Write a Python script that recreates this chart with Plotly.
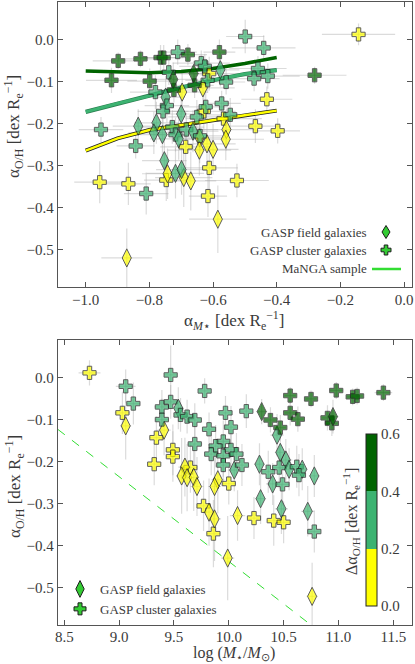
import plotly.graph_objects as go

# ---------------- data: top panel (alpha_M*, alpha_O/H) ----------------
# type: F = field (diamond), C = cluster (plus); delta = Delta alpha_O/H class value
top_alpha_m = [-0.898, -0.828, -0.765, -0.755, -0.679, -0.580, -0.919, -0.799, -0.658, -0.723, -0.281, -0.725, -0.661,
               -0.711, -0.637, -0.626, -0.739, -0.577, -0.617, -0.559, -0.781, -0.749, -0.745, -0.757, -0.700, -0.651,
               -0.623, -0.573, -0.546, -0.952, -0.835, -0.778, -0.786, -0.759, -0.728, -0.718, -0.708, -0.684, -0.663,
               -0.641, -0.843, -0.753, -0.718, -0.699, -0.810, -0.499, -0.441, -0.459, -0.471, -0.428,
               -0.143, -0.612, -0.431, -0.629, -0.567, -0.467, -0.397, -0.686, -0.612, -0.747, -0.525, -0.956, -0.866,
               -0.616, -0.697, -0.632, -0.558, -0.560, -0.642, -0.619, -0.643, -0.600, -0.743, -0.692, -0.670, -0.585,
               -0.871]
top_alpha_oh = [-0.051, -0.046, -0.043, -0.043, -0.036, -0.030, -0.097, -0.099, -0.109, -0.120, -0.085, -0.095, -0.081,
                -0.030, -0.056, -0.064, -0.078, -0.072, -0.097, -0.101, -0.125, -0.137, -0.157, -0.171, -0.177, -0.184,
                -0.160, -0.152, -0.179, -0.214, -0.206, -0.198, -0.222, -0.226, -0.208, -0.226, -0.236, -0.214, -0.218,
                -0.229, -0.253, -0.288, -0.318, -0.309, -0.366, 0.007, -0.020, -0.069, -0.093, -0.087,
                0.012, -0.081, -0.142, -0.171, -0.188, -0.206, -0.217, -0.255, -0.305, -0.334, -0.335, -0.339, -0.343,
                -0.372, -0.125, -0.115, -0.214, -0.237, -0.234, -0.248, -0.263, -0.261, -0.319, -0.328, -0.336, -0.427,
                -0.519]
top_xerr = [0.08, 0.07, 0.08, 0.06, 0.06, 0.05, 0.08, 0.07, 0.06, 0.06, 0.10, 0.07, 0.07,
            0.06, 0.09, 0.08, 0.08, 0.06, 0.07, 0.06, 0.08, 0.06, 0.07, 0.08, 0.07, 0.09,
            0.07, 0.06, 0.09, 0.07, 0.08, 0.07, 0.08, 0.07, 0.10, 0.08, 0.09, 0.10, 0.08,
            0.08, 0.06, 0.07, 0.09, 0.08, 0.07, 0.06, 0.10, 0.09, 0.08, 0.10,
            0.115, 0.09, 0.08, 0.10, 0.12, 0.08, 0.07, 0.08, 0.09, 0.07, 0.10, 0.08, 0.07,
            0.06, 0.08, 0.10, 0.09, 0.12, 0.08, 0.09, 0.10, 0.08, 0.08, 0.09, 0.08, 0.09,
            0.08]
top_yerr = [0.02, 0.02, 0.03, 0.03, 0.025, 0.03, 0.03, 0.03, 0.03, 0.03, 0.02, 0.04, 0.03,
            0.03, 0.03, 0.03, 0.03, 0.04, 0.03, 0.03, 0.04, 0.05, 0.04, 0.04, 0.05, 0.04,
            0.04, 0.03, 0.04, 0.03, 0.04, 0.05, 0.05, 0.05, 0.04, 0.04, 0.05, 0.04, 0.05,
            0.04, 0.03, 0.06, 0.06, 0.06, 0.05, 0.04, 0.03, 0.03, 0.03, 0.03,
            0.026, 0.04, 0.03, 0.05, 0.05, 0.04, 0.03, 0.05, 0.05, 0.05, 0.04, 0.05, 0.05,
            0.05, 0.05, 0.05, 0.05, 0.05, 0.06, 0.06, 0.06, 0.06, 0.06, 0.07, 0.07, 0.08,
            0.07]
top_type = list("CCCCCCCCCCCFF" + "CCCCFCCCFCCFC" + "CCCCFFFFCCFCF" + "CCFFFCCCCCC" + "CCCCCCCCCCCCC" + "CFFFFFFFFFFFFF")
top_delta = [0.5] * 13 + [0.3] * 37 + [0.1] * 27

# ---------------- data: bottom panel (log M*, alpha_O/H) ----------------
bot_logm = [10.56, 10.75, 10.98, 11.13, 11.17, 11.41, 10.38, 10.56, 10.63, 10.90, 10.94, 10.47, 10.30, 10.95,
            9.06, 9.47, 9.78, 9.13, 9.39, 9.39, 9.47, 9.54, 9.56, 9.62, 9.69, 9.97, 9.82, 10.02, 9.69, 9.95, 9.88,
            9.84, 10.02, 9.95, 9.95, 10.05, 10.16, 10.44, 10.47, 10.52, 10.46, 10.55, 10.62, 10.67, 10.64, 10.78,
            10.28, 10.36, 10.07, 10.12, 10.29, 10.40, 10.49, 10.48, 10.72, 10.78,
            8.73, 9.03, 9.34, 9.49, 9.49, 9.32, 9.65, 10.00, 9.77, 9.86, 10.23, 10.41, 10.50,
            9.06, 9.41, 9.60, 9.57, 9.62, 9.68, 9.90, 9.71, 9.87, 9.82, 9.87, 10.08, 9.99, 10.76]
bot_alpha_oh = [-0.043, -0.051, -0.031, -0.046, -0.044, -0.036, -0.101, -0.084, -0.099, -0.096, -0.109, -0.119, -0.081,
                -0.093,
                -0.021, 0.006, -0.032, -0.062, -0.070, -0.100, -0.058, -0.073, -0.089, -0.093, -0.101, -0.084, -0.123,
                -0.118, -0.158, -0.152, -0.163, -0.182, -0.172, -0.186, -0.208, -0.220, -0.080, -0.137, -0.178, -0.196,
                -0.214, -0.218, -0.212, -0.218, -0.232, -0.234, -0.206, -0.224, -0.182, -0.208, -0.288, -0.253, -0.254,
                -0.312, -0.318, -0.366,
                0.011, -0.084, -0.143, -0.172, -0.188, -0.206, -0.214, -0.252, -0.305, -0.371, -0.334, -0.340, -0.344,
                -0.115, -0.125, -0.213, -0.234, -0.238, -0.237, -0.243, -0.259, -0.259, -0.320, -0.336, -0.328, -0.429,
                -0.520]
bot_xerr = [0.05, 0.05, 0.06, 0.06, 0.05, 0.08, 0.05, 0.05, 0.05, 0.05, 0.05, 0.05, 0.05, 0.05,
            0.09, 0.06, 0.05, 0.06, 0.07, 0.06, 0.06, 0.05, 0.06, 0.06, 0.06, 0.05, 0.05, 0.06, 0.07, 0.06, 0.06,
            0.06, 0.07, 0.06, 0.07, 0.06, 0.06, 0.06, 0.05, 0.06, 0.06, 0.05, 0.06, 0.05, 0.06, 0.05,
            0.05, 0.06, 0.06, 0.06, 0.05, 0.06, 0.06, 0.06, 0.06, 0.05,
            0.10, 0.07, 0.06, 0.06, 0.06, 0.06, 0.06, 0.06, 0.06, 0.06, 0.06, 0.06, 0.06,
            0.05, 0.06, 0.06, 0.05, 0.06, 0.05, 0.06, 0.06, 0.06, 0.05, 0.06, 0.07, 0.06, 0.05]
bot_yerr = [0.02, 0.02, 0.02, 0.02, 0.02, 0.02, 0.03, 0.03, 0.03, 0.03, 0.03, 0.03, 0.03, 0.04,
            0.04, 0.07, 0.03, 0.05, 0.04, 0.05, 0.04, 0.05, 0.04, 0.04, 0.04, 0.04, 0.04, 0.05, 0.05, 0.05, 0.05,
            0.05, 0.05, 0.05, 0.05, 0.05, 0.04, 0.05, 0.05, 0.05, 0.05, 0.05, 0.05, 0.05, 0.05, 0.05,
            0.05, 0.05, 0.05, 0.05, 0.06, 0.05, 0.05, 0.06, 0.06, 0.05,
            0.03, 0.05, 0.05, 0.06, 0.06, 0.05, 0.06, 0.05, 0.06, 0.08, 0.05, 0.06, 0.05,
            0.08, 0.06, 0.07, 0.09, 0.08, 0.08, 0.08, 0.07, 0.09, 0.08, 0.10, 0.06, 0.10, 0.08]
bot_type = list("CCCCCCCCCCCCFF" + "CCCCCCCFCCCCCCCCCCCCCF" + "CFFFCFCFCFFCCCFFCFFC" + "CCCCCCCCCCCCC" + "FFFFFFFFFFFFFF")
bot_delta = [0.5] * 14 + [0.3] * 42 + [0.1] * 27

# ---------------- MaNGA trends (top) and guide line (bottom) ----------------
manga_x = [-1.0, -0.9, -0.8, -0.7, -0.6, -0.5, -0.4]
manga_high = [-0.075, -0.077, -0.079, -0.076, -0.069, -0.057, -0.043]
manga_mid = [-0.172, -0.152, -0.134, -0.114, -0.097, -0.082, -0.073]
manga_low = [-0.264, -0.235, -0.215, -0.203, -0.191, -0.180, -0.169]
guide_x = [8.44, 10.76]
guide_y = [-0.123, -0.590]

cbar_ticks = [0.0, 0.2, 0.4, 0.6]

YEL, MID, DARK = "#ffff00", "#3cb371", "#006400"
cscale = [[0, YEL], [1 / 3, YEL], [1 / 3, MID], [2 / 3, MID], [2 / 3, DARK], [1, DARK]]
FONT = "Liberation Serif"
TXT = "#3a3a3a"
AX = "#555555"
W, H = 415, 664


def px(x):
    return x / W


def py(y):
    return 1 - y / H


fig = go.Figure()


def add_panel(xs, ys, xe, ye, types, deltas, xa, ya, showscale):
    fig.add_trace(go.Scatter(
        x=xs, y=ys, xaxis=xa, yaxis=ya, mode="markers",
        marker=dict(size=1, opacity=0),
        error_x=dict(type="data", array=xe, color="rgba(175,175,175,0.45)", thickness=1.2, width=0),
        error_y=dict(type="data", array=ye, color="rgba(175,175,175,0.45)", thickness=1.2, width=0),
        showlegend=False, hoverinfo="skip"))
    return (xs, ys, types, deltas, xa, ya, showscale)


def add_markers(xs, ys, types, deltas, xa, ya, showscale):
    order = sorted(range(len(xs)), key=lambda i: deltas[i])
    fig.add_trace(go.Scatter(
        x=[xs[i] for i in order], y=[ys[i] for i in order], xaxis=xa, yaxis=ya, mode="markers",
        marker=dict(
            symbol=["diamond-tall" if types[i] == "F" else "cross" for i in order],
            size=[13 if types[i] == "F" else 11 for i in order],
            color=[deltas[i] for i in order], colorscale=cscale, cmin=0, cmax=0.6,
            line=dict(color="#1c1c1c", width=1),
            showscale=showscale,
            colorbar=dict(
                x=px(365.7), xanchor="left", xref="paper", thickness=11, thicknessmode="pixels",
                y=py(520), yanchor="middle", len=172 / H, lenmode="fraction",
                tickvals=cbar_ticks, tickformat=".1f", ticks="", outlinecolor="#222", outlinewidth=1,
                tickfont=dict(family=FONT, size=15, color=TXT), ypad=0, xpad=0)),
        showlegend=False, hoverinfo="skip"))


top = add_panel(top_alpha_m, top_alpha_oh, top_xerr, top_yerr, top_type, top_delta, "x", "y", False)
bot = add_panel(bot_logm, bot_alpha_oh, bot_xerr, bot_yerr, bot_type, bot_delta, "x2", "y2", True)

# MaNGA lines
fig.add_trace(go.Scatter(x=manga_x, y=manga_high, mode="lines", line=dict(color=DARK, width=3.5),
                         xaxis="x", yaxis="y", showlegend=False, hoverinfo="skip"))
fig.add_trace(go.Scatter(x=manga_x, y=manga_mid, mode="lines", line=dict(color="#2a7d4f", width=4.2),
                         xaxis="x", yaxis="y", showlegend=False, hoverinfo="skip"))
fig.add_trace(go.Scatter(x=manga_x, y=manga_mid, mode="lines", line=dict(color=MID, width=3),
                         xaxis="x", yaxis="y", showlegend=False, hoverinfo="skip"))
fig.add_trace(go.Scatter(x=manga_x, y=manga_low, mode="lines", line=dict(color="#222", width=4),
                         xaxis="x", yaxis="y", showlegend=False, hoverinfo="skip"))
fig.add_trace(go.Scatter(x=manga_x, y=manga_low, mode="lines", line=dict(color=YEL, width=2.4),
                         xaxis="x", yaxis="y", showlegend=False, hoverinfo="skip"))
fig.add_trace(go.Scatter(x=guide_x, y=guide_y, mode="lines", line=dict(color="#33dd33", width=1, dash="dash"),
                         xaxis="x2", yaxis="y2", showlegend=False, hoverinfo="skip"))

add_markers(*top)
add_markers(*bot)

# bottom legend (real legend entries)
LEG_GREEN = "#33cc33"
fig.add_trace(go.Scatter(x=[None], y=[None], xaxis="x2", yaxis="y2", mode="markers", name="GASP field galaxies",
                         marker=dict(symbol="diamond-tall", size=12, color=LEG_GREEN, line=dict(color="#1c1c1c", width=1))))
fig.add_trace(go.Scatter(x=[None], y=[None], xaxis="x2", yaxis="y2", mode="markers", name="GASP cluster galaxies",
                         marker=dict(symbol="cross", size=10, color=LEG_GREEN, line=dict(color="#1c1c1c", width=1))))

# top legend (text first, symbol after)
shapes = []
cx, w_, h_ = 386, 4, 6.5
cy = 232
shapes.append(dict(type="path", xref="paper", yref="paper",
                   path=f"M {px(cx)} {py(cy - h_)} L {px(cx + w_)} {py(cy)} L {px(cx)} {py(cy + h_)} L {px(cx - w_)} {py(cy)} Z",
                   fillcolor=LEG_GREEN, line=dict(color="#1c1c1c", width=1)))
cy = 250
a, b = 5, 1.8
pts = [(-b, -a), (b, -a), (b, -b), (a, -b), (a, b), (b, b), (b, a), (-b, a), (-b, b), (-a, b), (-a, -b), (-b, -b)]
path = "M " + " L ".join(f"{px(cx + dx)} {py(cy + dy)}" for dx, dy in pts) + " Z"
shapes.append(dict(type="path", xref="paper", yref="paper", path=path,
                   fillcolor=LEG_GREEN, line=dict(color="#1c1c1c", width=1)))
shapes.append(dict(type="line", xref="paper", yref="paper", x0=px(372), x1=px(401), y0=py(269), y1=py(269),
                   line=dict(color="#33dd33", width=2.5)))

annotations = []
for txt, yy in [("GASP field galaxies", 232), ("GASP cluster galaxies", 250), ("MaNGA sample", 269)]:
    annotations.append(dict(text=txt, x=px(369), y=py(yy), xref="paper", yref="paper", xanchor="right",
                            yanchor="middle", showarrow=False, font=dict(family=FONT, size=13, color=TXT)))

ylab = "α<sub>O/H</sub> [dex R<sub>e</sub><sup>−1</sup>]"
ann_common = dict(xref="paper", yref="paper", showarrow=False, xanchor="center", borderpad=0)
annotations += [
    dict(text="α<sub><i>M</i>⋆</sub> [dex R<sub>e</sub><sup>−1</sup>]", x=px(234), y=py(320), yanchor="middle",
         font=dict(family=FONT, size=17, color=TXT), **ann_common),
    dict(text=ylab, x=px(14), y=py(127), yanchor="middle", textangle=-90,
         font=dict(family=FONT, size=17, color=TXT), **ann_common),
    dict(text="log (<i>M</i><sub>⋆</sub>/<i>M</i><sub>⊙</sub>)", x=px(234), y=0, yanchor="bottom",
         font=dict(family=FONT, size=16, color=TXT), **ann_common),
    dict(text=ylab, x=px(14), y=py(487), yanchor="middle", textangle=-90,
         font=dict(family=FONT, size=17, color=TXT), **ann_common),
    dict(text="Δα<sub>O/H</sub> [dex R<sub>e</sub><sup>−1</sup>]", x=px(351), y=py(522), yanchor="middle",
         textangle=-90, font=dict(family=FONT, size=16, color=TXT), **ann_common),
]

axis_common = dict(showgrid=False, zeroline=False, ticks="inside", ticklen=5, tickcolor=AX, showline=True,
                   linecolor=AX, linewidth=1, mirror="ticks", automargin=False,
                   tickfont=dict(family=FONT, size=15, color=TXT))
xd = [px(57.7), px(411.7)]
fig.update_layout(
    width=W, height=H, margin=dict(l=0, r=0, t=0, b=0), paper_bgcolor="white", plot_bgcolor="white",
    xaxis=dict(domain=xd, anchor="y", range=[-1.088, 0.024], tickvals=[-1.0, -0.8, -0.6, -0.4, -0.2, 0.0],
               tickformat=".1f", ticklabelstandoff=-1, **axis_common),
    yaxis=dict(domain=[py(287), py(2)], anchor="x", range=[-0.588, 0.089],
               tickvals=[0.0, -0.1, -0.2, -0.3, -0.4, -0.5], tickformat=".1f", **axis_common),
    xaxis2=dict(domain=xd, anchor="y2", range=[8.44, 11.668], tickvals=[8.5, 9.0, 9.5, 10.0, 10.5, 11.0, 11.5],
                tickformat=".1f", ticklabelstandoff=-2, **axis_common),
    yaxis2=dict(domain=[py(625), py(340)], anchor="x2", range=[-0.588, 0.089],
                tickvals=[0.0, -0.1, -0.2, -0.3, -0.4, -0.5], tickformat=".1f", **axis_common),
    legend=dict(x=px(60), y=py(574), xanchor="left", yanchor="top", bgcolor="rgba(0,0,0,0)",
                font=dict(family=FONT, size=13, color=TXT), tracegroupgap=0, itemwidth=30),
    shapes=shapes, annotations=annotations,
)

fig.write_html("out.html", config={"displayModeBar": False},
               post_script="document.body.style.margin='0px';document.body.style.overflow='hidden';")
